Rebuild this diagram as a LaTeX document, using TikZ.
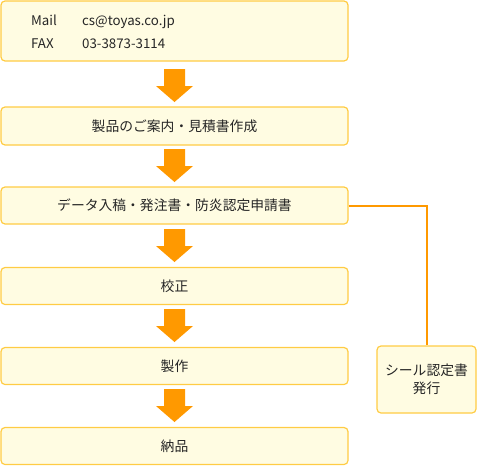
\documentclass[tikz,border=0pt]{standalone}
\usepackage{fontspec}
\setmainfont{Noto Sans CJK JP}
\begin{document}
\begin{tikzpicture}[x=1pt,y=-1pt,
  stepbox/.style={draw=boxline,fill=boxfill,line width=1.2pt,rounded corners=4pt,inner sep=0pt},
  txt/.style={font=\fontsize{13.8}{15}\selectfont,text=black!85},
  ltxt/.style={font=\fontsize{13.3}{15}\selectfont,text=black!85,inner sep=0pt,anchor=base west}]
\definecolor{boxline}{HTML}{FFCC44}
\definecolor{boxfill}{HTML}{FFFCE2}
\definecolor{arrowc}{HTML}{FF9900}
\useasboundingbox (0,0) rectangle (477,466);
% boxes
\node[stepbox,minimum width=347pt,minimum height=60pt] (b1) at (174.5,31) {};
\node[ltxt] (m1) at (31,25) {Mail};
\node[ltxt] (m2) at (82,25) {cs@toyas.co.jp};
\node[ltxt] (f1) at (31,48) {FAX};
\node[ltxt] (f2) at (82,48) {03-3873-3114};
\node[stepbox,minimum width=347pt,minimum height=38pt,txt] (b2) at (174.5,126) {製品のご案内・見積書作成};
\node[stepbox,minimum width=347pt,minimum height=37pt,txt] (b3) at (174.5,205.5) {データ入稿・発注書・防炎認定申請書};
\node[stepbox,minimum width=347pt,minimum height=37pt,txt] (b4) at (174.5,286) {校正};
\node[stepbox,minimum width=347pt,minimum height=37pt,txt] (b5) at (174.5,366) {製作};
\node[stepbox,minimum width=347pt,minimum height=37pt,txt] (b6) at (174.5,446) {納品};
\node[stepbox,minimum width=99pt,minimum height=67pt,txt,align=center] (s) at (426.5,379.5) {シール認定書\\[3pt]発行};
% connector
\draw[draw=arrowc,line width=2pt] (b3.east) -| (s.north);
% arrows
\foreach \y in {69,149,229,309,389}{
  \fill[arrowc] (164,\y) -- (185,\y) -- (185,\y+17) -- (193,\y+17) -- (174.5,\y+33) -- (156,\y+17) -- (164,\y+17) -- cycle;
}
\end{tikzpicture}
\end{document}
